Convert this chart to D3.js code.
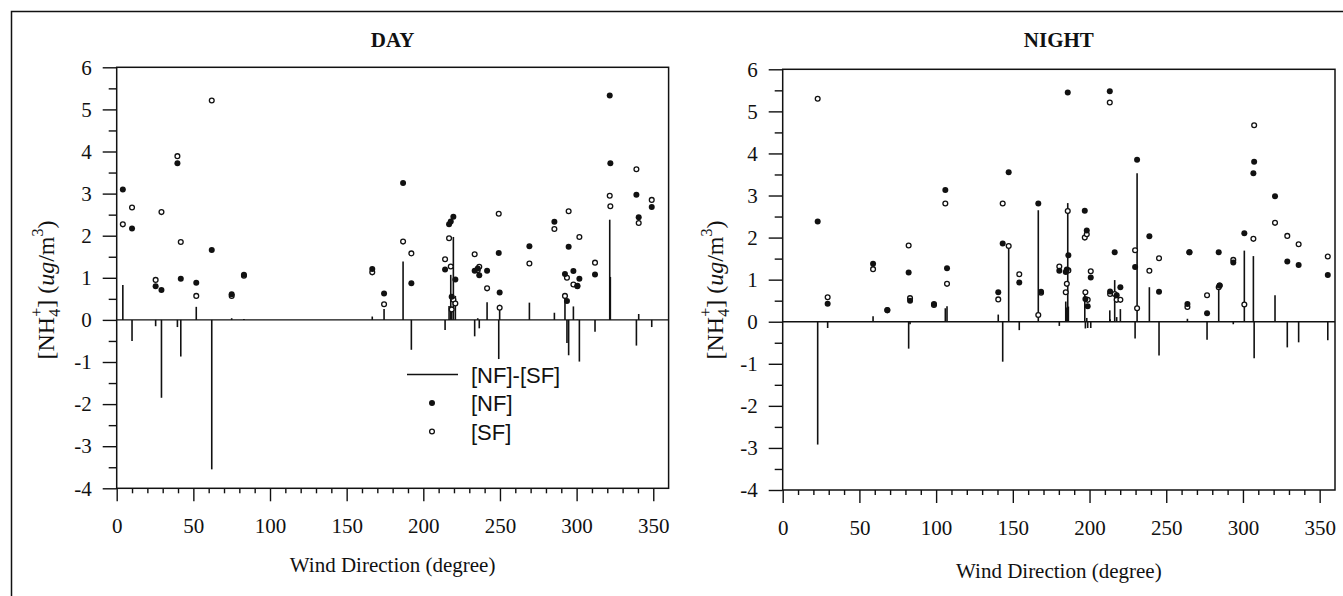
<!DOCTYPE html>
<html>
<head>
<meta charset="utf-8">
<script src="https://cdn.jsdelivr.net/npm/d3@7"></script>
<style>
  body { margin: 0; background: #fff; }
  svg { display: block; }
  .tick text { font-family: "Liberation Serif", "Times New Roman", serif; font-size: 21px; fill: #111; }
  .tick line { stroke: #111; stroke-width: 1.4; }
</style>
</head>
<body>
<svg id="chart" width="1343" height="596"></svg>
<script>
// wind direction (degree) with [NF] and [SF] NH4+ (ug/m3)
const dayDir = [4, 10, 25.4, 29.2, 39.6, 41.8, 51.9, 62, 75, 83,
  166.7, 174.4, 186.8, 192.2, 214.2, 216.8, 217.9, 218.5, 219.6, 220.9,
  233.5, 235.5, 236.5, 241.6, 249.2, 249.8, 269.2, 285.5, 292.4, 293.7,
  294.8, 297.9, 300.5, 301.8, 312, 321.6, 322, 339, 340.5, 349];
const dayNF = [3.10, 2.17, 0.80, 0.71, 3.72, 0.98, 0.88, 1.66, 0.61, 1.07,
  1.21, 0.63, 3.25, 0.87, 1.20, 2.27, 2.34, 0.55, 2.45, 0.96,
  1.17, 1.22, 1.06, 1.17, 1.59, 0.65, 1.75, 2.33, 1.09, 0.45,
  1.74, 1.16, 0.81, 0.98, 1.08, 5.33, 3.72, 2.97, 2.44, 2.68];
const daySF = [2.27, 2.67, 0.95, 2.56, 3.89, 1.85, 0.57, 5.21, 0.57, 1.05,
  1.13, 0.37, 1.86, 1.58, 1.44, 1.94, 1.27, 0.25, 0.48, 0.39,
  1.56, 1.18, 1.26, 0.75, 2.52, 0.29, 1.34, 2.16, 0.57, 1.00,
  2.58, 0.84, 0.80, 1.97, 1.36, 2.95, 2.70, 3.58, 2.30, 2.85];

const nightDir = [22.8, 29.3, 58.9, 68.2, 82.1, 83, 98.6, 106, 107.1, 140.5,
  143.4, 147.3, 154.2, 166.6, 168.4, 180.3, 184.5, 185.2, 185.8, 186.2,
  196.9, 197.3, 198.2, 198.8, 200.8, 213.2, 213.4, 216.4, 217.7, 220.1,
  229.7, 231, 239, 245.3, 263.8, 265.1, 276.6, 284.2, 284.8, 293.7,
  300.9, 306.8, 307.3, 320.9, 328.9, 336.3, 355.3];
const nightNF = [2.38, 0.43, 1.38, 0.28, 1.17, 0.50, 0.42, 3.13, 1.27, 0.70,
  1.86, 3.55, 0.93, 2.81, 0.71, 1.21, 1.18, 1.24, 5.45, 1.58,
  2.64, 0.54, 2.17, 0.37, 1.05, 5.48, 0.72, 1.65, 0.63, 0.82,
  1.30, 3.85, 2.03, 0.71, 0.42, 1.65, 0.20, 1.65, 0.86, 1.41,
  2.10, 3.53, 3.80, 2.98, 1.43, 1.35, 1.11];
const nightSF = [5.30, 0.58, 1.25, 0.27, 1.81, 0.56, 0.40, 2.81, 0.90, 0.53,
  2.81, 1.80, 1.13, 0.16, 0.69, 1.31, 0.70, 0.90, 2.63, 1.22,
  2.00, 0.70, 2.08, 0.52, 1.20, 5.21, 0.66, 0.66, 0.52, 0.52,
  1.70, 0.32, 1.21, 1.51, 0.35, 1.65, 0.63, 0.82, 0.86, 1.47,
  0.41, 1.97, 4.67, 2.35, 2.04, 1.84, 1.55];

const yTicks = [-4, -3, -2, -1, 0, 1, 2, 3, 4, 5, 6];
const xTicks = [0, 50, 100, 150, 200, 250, 300, 350];
const legendLabels = ["[NF]-[SF]", "[NF]", "[SF]"];

const ink = "#111";
const serif = '"Liberation Serif", "Times New Roman", serif';
const sans = '"Liberation Sans", Arial, sans-serif';

const svg = d3.select("#chart");

// outer figure frame (only top and left edges show in the picture)
svg.append("path")
  .attr("d", "M11.5,596 L11.5,11.5 L1343,11.5")
  .attr("fill", "none").attr("stroke", ink).attr("stroke-width", 1.5);

const panels = [
  { title: "DAY", dir: dayDir, nf: dayNF, sf: daySF,
    x0: 116.7, x1: 668.6, yTop: 67.3, yBot: 488.3, labelX: 54, xLabelY: 572, legend: true },
  { title: "NIGHT", dir: nightDir, nf: nightNF, sf: nightSF,
    x0: 782.7, x1: 1335, yTop: 69.3, yBot: 490, labelX: 723, xLabelY: 578, legend: false }
];

panels.forEach(p => drawPanel(p));

function drawPanel(p) {
  const x = d3.scaleLinear().domain([0, 360]).range([p.x0, p.x1]);
  const y = d3.scaleLinear().domain([-4, 6]).range([p.yBot, p.yTop]);
  const g = svg.append("g");

  const rows = p.dir.map((d, i) => ({ dir: d, nf: p.nf[i], sf: p.sf[i] }));

  // axes: major ticks labelled, minor ticks bare
  g.append("g").attr("transform", `translate(${p.x0},0)`)
    .call(d3.axisLeft(y).tickValues(d3.range(-3.5, 6, 1)).tickSize(8).tickFormat(""))
    .call(a => a.select(".domain").remove());
  g.append("g").attr("transform", `translate(${p.x0},0)`)
    .call(d3.axisLeft(y).tickValues(yTicks).tickSize(14).tickPadding(11).tickFormat(d => String(d)))
    .call(a => a.select(".domain").remove());

  const minorX = d3.range(10, 360, 10).filter(d => d % 50 !== 0);
  g.append("g").attr("transform", `translate(0,${p.yBot})`)
    .call(d3.axisBottom(x).tickValues(minorX).tickSize(5).tickFormat(""))
    .call(a => a.select(".domain").remove());
  g.append("g").attr("transform", `translate(0,${p.yBot})`)
    .call(d3.axisBottom(x).tickValues(xTicks).tickSize(13).tickPadding(17).tickFormat(d => String(d)))
    .call(a => a.select(".domain").remove());

  // plot frame
  g.append("rect")
    .attr("x", p.x0).attr("y", p.yTop)
    .attr("width", p.x1 - p.x0).attr("height", p.yBot - p.yTop)
    .attr("fill", "none").attr("stroke", ink).attr("stroke-width", 1.5);

  // zero line
  g.append("line")
    .attr("x1", p.x0).attr("x2", p.x1)
    .attr("y1", y(0)).attr("y2", y(0))
    .attr("stroke", ink).attr("stroke-width", 1.4);

  // [NF]-[SF] stems
  g.selectAll(".stem").data(rows).enter().append("line")
    .attr("class", "stem")
    .attr("x1", d => x(d.dir)).attr("x2", d => x(d.dir))
    .attr("y1", y(0)).attr("y2", d => y(d.nf - d.sf))
    .attr("stroke", ink).attr("stroke-width", 1.6);

  // [SF] open circles
  g.selectAll(".sf").data(rows).enter().append("circle")
    .attr("class", "sf")
    .attr("cx", d => x(d.dir)).attr("cy", d => y(d.sf))
    .attr("r", 2.4).attr("fill", "#fff").attr("stroke", ink).attr("stroke-width", 1.3);

  // [NF] filled dots
  g.selectAll(".nf").data(rows).enter().append("circle")
    .attr("class", "nf")
    .attr("cx", d => x(d.dir)).attr("cy", d => y(d.nf))
    .attr("r", 3).attr("fill", ink);

  // title
  g.append("text")
    .attr("x", (p.x0 + p.x1) / 2).attr("y", 47)
    .attr("text-anchor", "middle")
    .attr("font-family", serif).attr("font-weight", "bold").attr("font-size", 21)
    .attr("fill", ink)
    .text(p.title);

  // x label
  g.append("text")
    .attr("x", (p.x0 + p.x1) / 2).attr("y", p.xLabelY)
    .attr("text-anchor", "middle")
    .attr("font-family", serif).attr("font-size", 21).attr("fill", ink)
    .text("Wind Direction (degree)");

  // y label [NH4+] (ug/m3)
  const yl = g.append("text")
    .attr("transform", `translate(${p.labelX},290) rotate(-90)`)
    .attr("text-anchor", "middle")
    .attr("font-family", serif).attr("font-size", 24).attr("fill", ink);
  yl.append("tspan").text("[NH");
  yl.append("tspan").attr("font-size", 16).attr("dy", 6).text("4");
  yl.append("tspan").attr("font-size", 16).attr("dx", -8).attr("dy", -18).text("+");
  yl.append("tspan").attr("dy", 12).text("] (");
  yl.append("tspan").attr("font-style", "italic").text("ug");
  yl.append("tspan").text("/m");
  yl.append("tspan").attr("font-size", 16).attr("dy", -11).text("3");
  yl.append("tspan").attr("dy", 11).text(")");

  if (p.legend) drawLegend(g);
}

function drawLegend(g) {
  const lx = 432, ly = 374.5, step = 28.5;
  const items = g.append("g");
  items.append("line")
    .attr("x1", lx - 25).attr("x2", lx + 26)
    .attr("y1", ly).attr("y2", ly)
    .attr("stroke", ink).attr("stroke-width", 1.5);
  items.append("circle").attr("cx", lx).attr("cy", ly + step).attr("r", 3).attr("fill", ink);
  items.append("circle").attr("cx", lx).attr("cy", ly + 2 * step)
    .attr("r", 2.4).attr("fill", "#fff").attr("stroke", ink).attr("stroke-width", 1.3);
  items.selectAll(".lab").data(legendLabels).enter().append("text")
    .attr("x", lx + 39).attr("y", (d, i) => ly + i * step + 8)
    .attr("font-family", sans).attr("font-size", 22).attr("fill", ink)
    .text(d => d);
}
</script>
</body>
</html>
